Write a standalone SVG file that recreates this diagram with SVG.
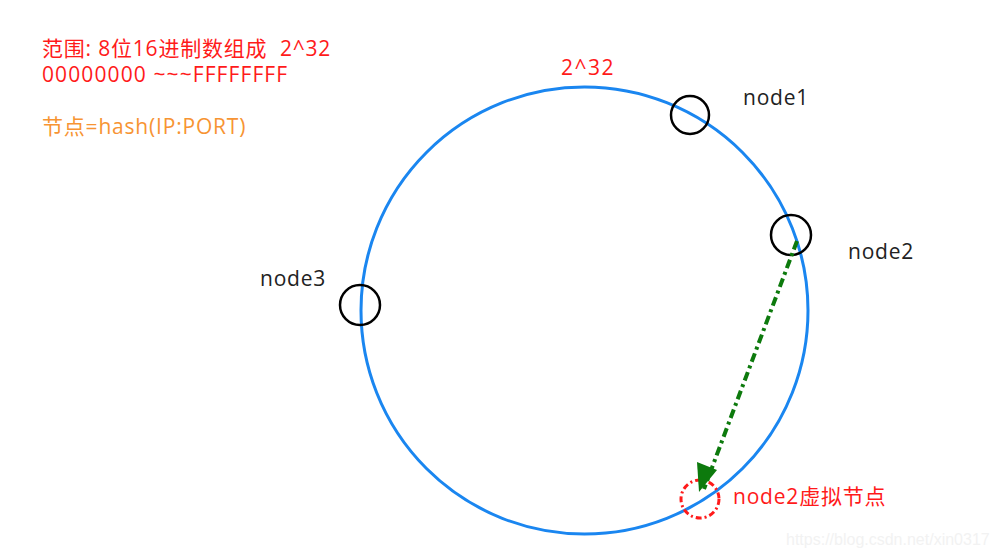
<svg xmlns="http://www.w3.org/2000/svg" width="998" height="556" viewBox="0 0 998 556">
<defs>
<style>
text{font-family:"Open Sans","Noto Sans CJK SC",sans-serif;font-size:21px;letter-spacing:0.8px;white-space:pre}
.red{fill:#ff1a1a}
.org{fill:#f79433}
.blk{fill:#222}
.node{fill:none;stroke:#000;stroke-width:2.5}
</style>
</defs>
<rect width="998" height="556" fill="#fff"/>
<g id="ring"><circle cx="584.5" cy="310.5" r="223.5" fill="none" stroke="#1a86f0" stroke-width="3"/></g>
<g id="labels">
<text x="42" y="56" class="red" xml:space="preserve">范围: 8位16进制数组成  2^32</text>
<text x="42" y="82" class="red" style="letter-spacing:1.1px">00000000 ~~~FFFFFFFF</text>
<text x="42" y="134" class="org">节点=hash(IP:PORT)</text>
<text x="561" y="75" class="red" style="letter-spacing:1.5px">2^32</text>
<text x="733" y="504" class="red">node2虚拟节点</text>
<text x="786" y="545" style="font-family:'Liberation Sans',sans-serif;font-size:16px;letter-spacing:0;fill:#f2f2f2">https://blog.csdn.net/xin0317</text>
</g>
<g id="node1"><circle cx="690" cy="115" r="19" class="node"/><text x="743" y="105" class="blk">node1</text></g>
<g id="node2"><circle cx="791" cy="235" r="20" class="node"/><text x="848" y="259" class="blk">node2</text></g>
<g id="node3"><circle cx="360" cy="305" r="20" class="node"/><text x="260" y="286" class="blk">node3</text></g>
<g id="vnode"><circle cx="700" cy="499" r="19" fill="none" stroke="#ff1a1a" stroke-width="3" stroke-dasharray="6 3 2 3"/></g>
<g id="connectors">
<line x1="797" y1="241" x2="704" y2="489" stroke="#0d7a0d" stroke-width="4" stroke-dasharray="9 4 3 4"/>
<path d="M699,492 L697,462 L717,470 Z" fill="#0d7a0d"/>
</g>
</svg>
